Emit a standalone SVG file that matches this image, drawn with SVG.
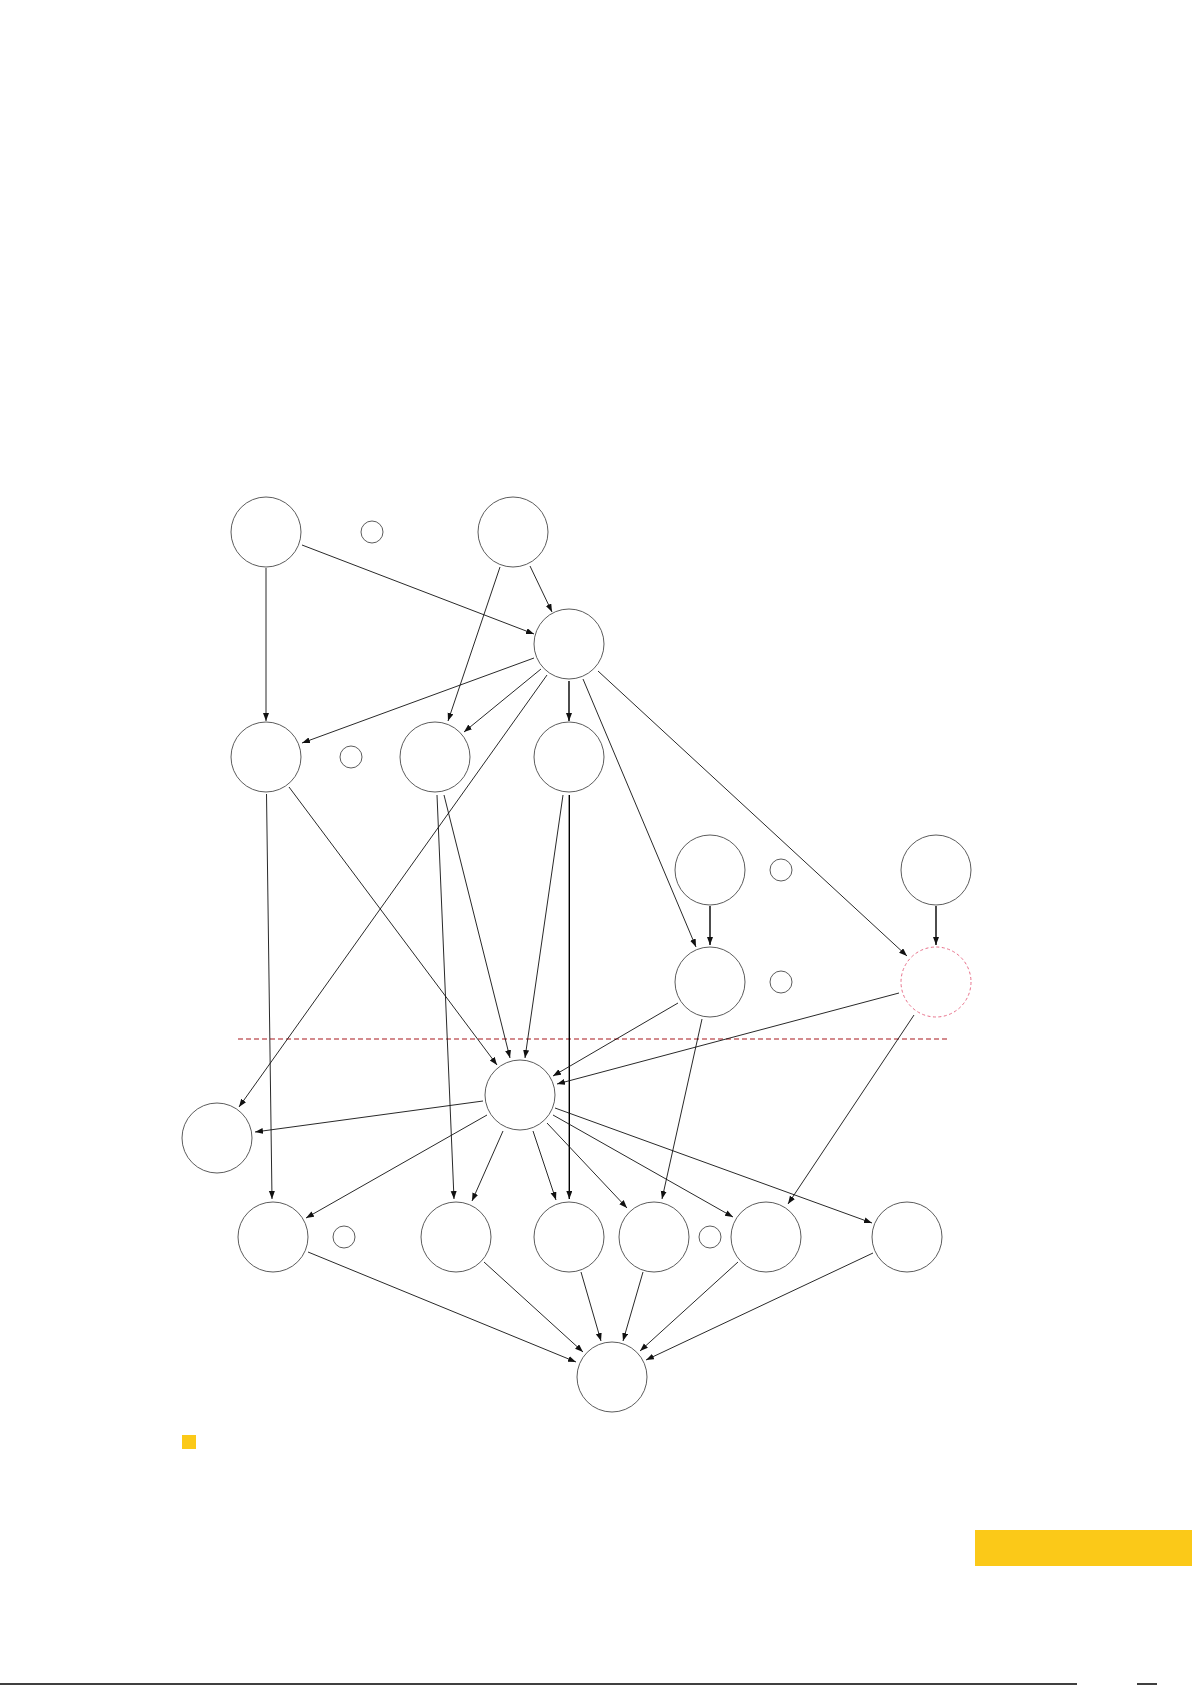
<svg xmlns="http://www.w3.org/2000/svg" width="1192" height="1685" viewBox="0 0 1192 1685">
<style>
.n{fill:#fff;stroke:#4a4a4a;stroke-width:0.9}
.s{fill:#fff;stroke:#4a4a4a;stroke-width:0.9}
.d{fill:#fff;stroke:#e8708a;stroke-width:1;stroke-dasharray:3 2.5}
.e{fill:none;stroke:#111;stroke-width:0.9;marker-end:url(#ah)}
.e2{fill:none;stroke:#000;stroke-width:1.4;marker-end:url(#ah)}
</style>
<defs>
<marker id="ah" markerUnits="userSpaceOnUse" markerWidth="9" markerHeight="7" refX="8" refY="3" orient="auto">
<path d="M0,0 L8,3 L0,6 z" fill="#111"/>
</marker>
</defs>
<rect width="1192" height="1685" fill="#fff"/>
<line x1="238" y1="1039" x2="949" y2="1039" stroke="#a8161c" stroke-width="1.1" stroke-dasharray="5 3"/>
<g id="connectors">
<line class="e" x1="266" y1="568" x2="266" y2="721"/>
<line class="e" x1="302" y1="545" x2="534" y2="634"/>
<line class="e" x1="530" y1="566" x2="552" y2="612"/>
<line class="e" x1="500" y1="567" x2="448" y2="721"/>
<line class="e" x1="534" y1="658" x2="302" y2="743"/>
<line class="e" x1="541" y1="669" x2="464" y2="732"/>
<line class="e" x1="547" y1="675" x2="239" y2="1107"/>
<line class="e2" x1="569" y1="681" x2="569" y2="721"/>
<line class="e" x1="583" y1="679" x2="696" y2="947"/>
<line class="e" x1="598" y1="671" x2="907" y2="956"/>
<line class="e2" x1="936" y1="906" x2="936" y2="945"/>
<line class="e2" x1="710" y1="906" x2="710" y2="945"/>
<line class="e" x1="266.5" y1="794" x2="272" y2="1199"/>
<line class="e" x1="289" y1="787" x2="497" y2="1065"/>
<line class="e" x1="437" y1="795" x2="454" y2="1199"/>
<line class="e" x1="444" y1="795" x2="510" y2="1058"/>
<line class="e" x1="563" y1="795" x2="525" y2="1058"/>
<line class="e2" x1="569.3" y1="795" x2="569.3" y2="1199"/>
<line class="e" x1="678" y1="1003" x2="553" y2="1076"/>
<line class="e" x1="899" y1="993" x2="557" y2="1084"/>
<line class="e" x1="702" y1="1019" x2="662" y2="1199"/>
<line class="e" x1="914" y1="1015" x2="788" y2="1204"/>
<line class="e" x1="483" y1="1101" x2="255" y2="1132"/>
<line class="e" x1="487" y1="1115" x2="306" y2="1218"/>
<line class="e" x1="503" y1="1131" x2="472" y2="1201"/>
<line class="e" x1="533" y1="1131" x2="556" y2="1200"/>
<line class="e" x1="547" y1="1123" x2="627" y2="1208"/>
<line class="e" x1="553" y1="1115" x2="733" y2="1217"/>
<line class="e" x1="555" y1="1108" x2="872" y2="1223"/>
<line class="e" x1="308" y1="1252" x2="576" y2="1362"/>
<line class="e" x1="484" y1="1262" x2="583" y2="1352"/>
<line class="e" x1="581" y1="1272" x2="601" y2="1341"/>
<line class="e" x1="643" y1="1272" x2="623" y2="1341"/>
<line class="e" x1="738" y1="1262" x2="640" y2="1351"/>
<line class="e" x1="873" y1="1253" x2="646" y2="1360"/>
</g>
<g id="nA"><circle class="n" cx="266" cy="532" r="35"/></g>
<g id="nA1"><circle class="s" cx="372" cy="532" r="11"/></g>
<g id="nB"><circle class="n" cx="513" cy="532" r="35"/></g>
<g id="nC"><circle class="n" cx="569" cy="644" r="35"/></g>
<g id="nD"><circle class="n" cx="266" cy="757" r="35"/></g>
<g id="nD1"><circle class="s" cx="351" cy="757" r="11"/></g>
<g id="nE"><circle class="n" cx="435" cy="757" r="35"/></g>
<g id="nF"><circle class="n" cx="569" cy="757" r="35"/></g>
<g id="nG"><circle class="n" cx="710" cy="870" r="35"/></g>
<g id="nG1"><circle class="s" cx="781" cy="870" r="11"/></g>
<g id="nH"><circle class="n" cx="936" cy="870" r="35"/></g>
<g id="nI"><circle class="n" cx="710" cy="982" r="35"/></g>
<g id="nI1"><circle class="s" cx="781" cy="982" r="11"/></g>
<g id="nJ"><circle class="d" cx="936" cy="982" r="35"/></g>
<g id="nK"><circle class="n" cx="520" cy="1095" r="35"/></g>
<g id="nL"><circle class="n" cx="217" cy="1138" r="35"/></g>
<g id="nM"><circle class="n" cx="273" cy="1237" r="35"/></g>
<g id="nM1"><circle class="s" cx="344" cy="1237" r="11"/></g>
<g id="nN"><circle class="n" cx="456" cy="1237" r="35"/></g>
<g id="nO"><circle class="n" cx="569" cy="1237" r="35"/></g>
<g id="nP"><circle class="n" cx="654" cy="1237" r="35"/></g>
<g id="nP1"><circle class="s" cx="710" cy="1237" r="11"/></g>
<g id="nR"><circle class="n" cx="766" cy="1237" r="35"/></g>
<g id="nS"><circle class="n" cx="907" cy="1237" r="35"/></g>
<g id="nQ"><circle class="n" cx="612" cy="1377" r="35"/></g>
<rect x="182" y="1435" width="14" height="14" fill="#fbc918"/>
<rect x="975" y="1530" width="217" height="36" fill="#fbc918"/>
<line x1="0" y1="1684" x2="1077" y2="1684" stroke="#000" stroke-width="1.5"/>
<line x1="1137" y1="1684" x2="1157" y2="1684" stroke="#000" stroke-width="1.5"/>
</svg>
